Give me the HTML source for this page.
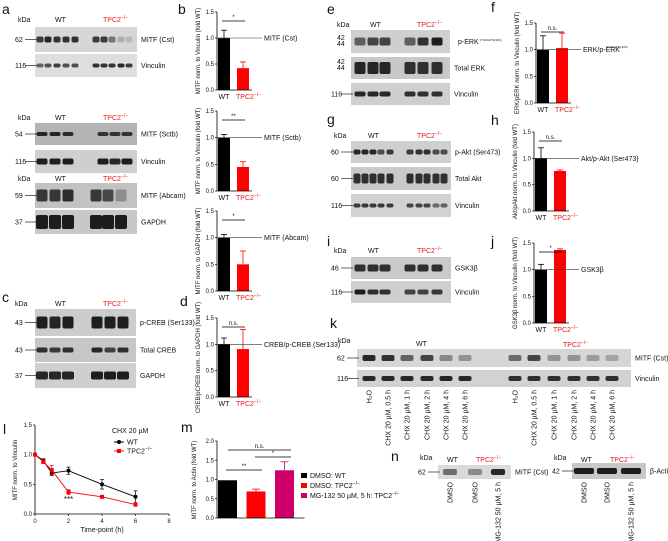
<!DOCTYPE html>
<html><head><meta charset="utf-8">
<style>
html,body{margin:0;padding:0;background:#fff;}
svg{display:block;font-family:"Liberation Sans",Arial,sans-serif;}
text{font-size:7px;fill:#111;}
.let{font-size:14px;}
.red{fill:#e8141b;}
</style></head>
<body>
<svg id="fig" width="668" height="541" viewBox="0 0 668 541" xmlns="http://www.w3.org/2000/svg"></svg>
<script>
// ---------- chart data ----------
const barCategories = ["WT", "TPC2"];
const bCstValues = [1.0, 0.42];   const bCstErrors = [0.15, 0.12];
const bSctbValues = [1.0, 0.45];  const bSctbErrors = [0.06, 0.10];
const bAbcamValues = [1.0, 0.50]; const bAbcamErrors = [0.06, 0.25];
const dCrebValues = [1.0, 0.91];  const dCrebErrors = [0.12, 0.37];
const fErkValues = [1.0, 1.03];   const fErkErrors = [0.26, 0.28];
const hAktValues = [1.0, 0.76];   const hAktErrors = [0.20, 0.02];
const jGskValues = [1.0, 1.37];   const jGskErrors = [0.10, 0.02];
const barTicks = [0, 0.5, 1.0, 1.5];
const lTimes = [0, 0.5, 1, 2, 4, 6];
const lWtValues = [1.0, 0.90, 0.69, 0.73, 0.50, 0.29];
const lWtErrors = [0.02, 0.03, 0.04, 0.06, 0.08, 0.10];
const lKoValues = [1.0, 0.88, 0.74, 0.37, 0.29, 0.16];
const lKoErrors = [0.02, 0.03, 0.08, 0.04, 0.02, 0.03];
const lXTicks = [0, 2, 4, 6, 8];
const lYTicks = [0, 0.5, 1.0, 1.5];
const mCategories = ["DMSO: WT", "DMSO: TPC2", "MG-132 50 µM, 5 h: TPC2"];
const mValues = [0.98, 0.69, 1.24];
const mErrors = [0.0, 0.06, 0.22];
const mTicks = [0, 0.5, 1.0, 1.5, 2.0];

const NS = "http://www.w3.org/2000/svg";
const svg = document.getElementById("fig");
function el(tag, attrs, parent, txt) {
  const e = document.createElementNS(NS, tag);
  for (const k in attrs) e.setAttribute(k, attrs[k]);
  if (txt !== undefined) e.textContent = txt;
  (parent || svg).appendChild(e);
  return e;
}
function txt(x, y, s, opts, parent) {
  const t = el("text", Object.assign({x: x, y: y}, opts || {}), parent, s);
  return t;
}
function tpc(x, y, opts, parent, size) {
  const t = el("text", Object.assign({x: x, y: y, class: "red"}, opts || {}), parent);
  const a = el("tspan", {}, t, "TPC2");
  const b = el("tspan", {dy: -3, style: "font-size:" + (size || 5) + "px"}, t, "−/−");
  return t;
}
function letter(x, y, s) {
  const t = txt(x, y, s, {class: "let"});
  
  
}
["a",2,14,"b",178,14,"c",2,302,"d",180,306,"e",327,14,"f",491,12,"g",327,124,"h",491,125,"i",327,246,"j",491,246,"k",330,328,"l",3,434,"m",181,432,"n",391,461].reduce((acc,v,i,arr)=>{ if(i%3===0) letter(arr[i+1],arr[i+2],v); return acc;},0);

// ---------- blots ----------
function blot(name, x, y, w, h, bg, lanes, bandH, label, kda, kdaDy) {
  const g = el("g", {});
  
  
  el("rect", {x: x, y: y, width: w, height: h, fill: bg}, g);
  lanes.forEach(l => {
    el("rect", {x: l[0] - l[1] / 2, y: y + h / 2 - bandH / 2 + (l[3] || 0), width: l[1], height: bandH, rx: 2, fill: "rgba(20,20,20," + l[2] + ")"}, g);
  });
  if (label) txt(x + w + 4, y + h / 2 + 2.5, label, {}, g);
  if (kda) {
    txt(x - 20, y + h / 2 + 2.5 + (kdaDy || 0), kda, {}, g);
    el("line", {x1: x - 10, x2: x + 2, y1: y + h / 2 + (kdaDy || 0), y2: y + h / 2 + (kdaDy || 0), stroke: "#222", "stroke-width": 0.7}, g);
  }
  return g;
}
function header(x1, x2, y, kx) {
  txt(kx, y, "kDa");
  txt(x1, y, "WT");
  tpc(x2, y);
}
function lanes(centers, w, ints) { return centers.map((c, i) => [c, w, ints[i]]); }

// a
header(55, 103, 22, 18);
blot("blot-a-mitf-cst", 35, 27, 102, 25, "#d6d6d6", lanes([40,48,57,66,75,96,104,112,121,129], 7, [.8,.9,.85,.85,.85,.8,.8,.5,.2,.15]), 6, "MITF (Cst)", "62");
blot("blot-a-vinculin-1", 35, 54, 102, 23, "#dedede", lanes([40,48,57,66,75,96,104,112,121,129], 7, [.6,.7,.8,.7,.7,.85,.85,.85,.9,.8]), 4, "Vinculin", "116");
header(55, 103, 120, 18);
blot("blot-a-mitf-sctb", 35, 123, 102, 22, "#b4b4b4", lanes([42,55,68,103,115,127], 11, [.9,.9,.85,.8,.8,.8]), 4, "MITF (Sctb)", "54");
blot("blot-a-vinculin-2", 35, 150, 102, 23, "#cfcfcf", lanes([42,55,68,103,115,127], 11, [.95,.95,.95,.95,.9,.95]), 6, "Vinculin", "116");
header(55, 103, 181, 18);
blot("blot-a-mitf-abcam", 35, 183, 102, 25, "#c2c2c2", lanes([42,55,68,96,108,121], 11, [.8,.8,.85,.8,.7,.3]), 12, "MITF (Abcam)", "59");
blot("blot-a-gapdh", 35, 210, 102, 24, "#c8c8c8", lanes([42,55,68,96,108,121], 12, [.95,.95,.95,.95,.95,.95]), 14, "GAPDH", "37");
// c
header(55, 103, 306, 15);
blot("blot-c-pcreb", 35, 309, 101, 27, "#cccccc", lanes([42,55,68,97,110,123], 11, [.95,.9,.95,.95,.95,.95]), 12, "p-CREB (Ser133)", "43");
blot("blot-c-total-creb", 35, 338, 101, 24, "#c6c6c6", lanes([42,55,68,97,110,123], 11, [.85,.8,.85,.9,.75,.85]), 5, "Total CREB", "43");
blot("blot-c-gapdh", 35, 363, 101, 25, "#cfcfcf", lanes([42,55,68,97,110,123], 12, [.9,.9,.9,.95,.95,.95]), 8, "GAPDH", "37");
// e
header(370, 417, 27, 337);
blot("blot-e-perk", 351, 30, 99, 23, "#cfcfcf", lanes([360,373,385,410,423,437], 11, [.6,.75,.75,.6,.85,.95]), 8, "", "");
txt(458, 44, "p-ERK"); txt(480, 41, "(Thr202/Tyr204)", {style: "font-size:3px"});
txt(337, 40, "42"); txt(337, 46, "44");
blot("blot-e-total-erk", 351, 57, 99, 22, "#c8c8c8", lanes([360,373,385,410,423,437], 11, [.9,.9,.9,.85,.85,.85]), 12, "Total ERK", "");
txt(337, 64, "42"); txt(337, 70, "44");
blot("blot-e-vinculin", 351, 83, 99, 22, "#cfcfcf", lanes([360,373,385,410,423,437], 11, [.9,.9,.9,.85,.85,.85]), 5, "Vinculin", "116");
// g
header(368, 417, 138, 334);
blot("blot-g-pakt", 351, 141, 100, 22, "#cfcfcf", lanes([357,365,373,381,390,410,419,427,436,444], 7, [.9,.9,.9,.7,.8,.8,.85,.85,.7,.7]), 5, "p-Akt (Ser473)", "60");
blot("blot-g-total-akt", 351, 167, 100, 23, "#c9c9c9", lanes([357,365,373,381,390,410,419,427,436,444], 7, [.85,.85,.85,.85,.85,.85,.85,.85,.85,.85]), 10, "Total Akt", "60");
blot("blot-g-vinculin", 351, 194, 100, 23, "#d2d2d2", lanes([357,365,373,381,390,410,419,427,436,444], 7, [.8,.8,.8,.8,.8,.75,.75,.75,.55,.6]), 4, "Vinculin", "116");
// i
header(368, 417, 253, 334);
blot("blot-i-gsk3b", 351, 257, 100, 22, "#c9c9c9", lanes([360,373,385,410,423,437], 11, [.85,.85,.85,.85,.85,.85]), 7, "GSK3β", "46");
blot("blot-i-vinculin", 351, 281, 100, 22, "#cfcfcf", lanes([360,373,385,410,423,437], 11, [.95,.85,.85,.75,.75,.8]), 5, "Vinculin", "116");
// k
txt(338, 343, "kDa"); txt(416, 346, "WT"); tpc(563, 347);
const kCent = [369,388,407,427,446,465,515,534,554,574,593,612];
blot("blot-k-mitf", 357, 349, 274, 18, "#d6d6d6", lanes(kCent, 13, [.9,.85,.6,.75,.4,.35,.55,.75,.35,.35,.3,.25]), 6, "MITF (Cst)", "62");
blot("blot-k-vinculin", 357, 370, 274, 17, "#d2d2d2", lanes(kCent, 13, [.9,.9,.9,.9,.9,.9,.85,.85,.85,.85,.85,.85]), 5, "Vinculin", "116");
const kLab = ["H₂O","CHX 20 µM, 0.5 h","CHX 20 µM, 1 h","CHX 20 µM, 2 h","CHX 20 µM, 4 h","CHX 20 µM, 6 h"];
kCent.forEach((c, i) => {
  const t = txt(0, 0, kLab[i % 6], {transform: "translate(" + (c + 2.5) + ",390) rotate(-90)", "text-anchor": "end"});
  
  
});
// n
txt(420, 460, "kDa"); txt(447, 462, "WT"); tpc(476, 462);
blot("blot-n-mitf", 438, 465, 73, 14, "#dadada", lanes([450,475,498], 14, [.55,.4,.9]), 6, "MITF (Cst)", "62");
txt(554, 460, "kDa"); txt(581, 462, "WT"); tpc(610, 462);
blot("blot-n-actin", 572, 463, 74, 16, "#c8c8c8", lanes([584,607,631], 20, [.95,.95,.95]), 6, "β-Actin", "42");
[[450,"DMSO"],[475,"DMSO"],[498,"MG-132 50 µM, 5 h"],[584,"DMSO"],[607,"DMSO"],[631,"MG-132 50 µM, 5 h"]].forEach(p => {
  const t = txt(0, 0, p[1], {transform: "translate(" + (p[0] + 2.5) + ",482) rotate(-90)", "text-anchor": "end"});
  
  
});

// ---------- bar charts ----------
function barChart(name, ax, y0, y15, values, errors, sig, label, ylab, barW, gap) {
  const g = el("g", {});
  
  
  const ys = v => y0 - v * (y0 - y15) / 1.5;
  const bw = barW || 12, gp = gap || 7;
  values.forEach((v, i) => {
    const x = ax + 1 + i * (bw + gp);
    const r = el("rect", {x: x, y: ys(v), width: bw, height: y0 - ys(v), fill: i ? "#ff0000" : "#000"}, g);
    
    
    const cx = x + bw / 2;
    el("line", {x1: cx, x2: cx, y1: ys(v), y2: ys(v + errors[i]), stroke: i ? "#ff0000" : "#000", "stroke-width": 0.8}, g);
    el("line", {x1: cx - 3, x2: cx + 3, y1: ys(v + errors[i]), y2: ys(v + errors[i]), stroke: i ? "#ff0000" : "#000", "stroke-width": 0.8}, g);
  });
  const xEnd = ax + 2 + 2 * bw + gp + 2;
  el("line", {x1: ax, x2: ax, y1: y15, y2: y0, stroke: "#000", "stroke-width": 0.8}, g);
  el("line", {x1: ax, x2: xEnd, y1: y0, y2: y0, stroke: "#000", "stroke-width": 0.8}, g);
  barTicks.forEach(t => {
    el("line", {x1: ax - 2, x2: ax, y1: ys(t), y2: ys(t), stroke: "#000", "stroke-width": 0.7}, g);
    txt(ax - 3, ys(t) + 2, t.toFixed(1), {"text-anchor": "end", style: "font-size:6px"}, g);
  });
  // reference line at 1.0 to label
  el("line", {x1: ax, x2: xEnd + 10, y1: ys(1), y2: ys(1), stroke: "#333", "stroke-width": 0.6}, g);
  txt(xEnd + 12, ys(1) + 2.5, label, {}, g);
  // significance
  const c1 = ax + 1 + bw / 2, c2 = ax + 1 + bw + gp + bw / 2;
  el("line", {x1: c1 - 2, x2: c2 + 2, y1: ys(1.5) + 9, y2: ys(1.5) + 9, stroke: "#000", "stroke-width": 0.7}, g);
  txt((c1 + c2) / 2, ys(1.5) + 7, sig, {"text-anchor": "middle", style: "font-size:6px"}, g);
  // x labels
  txt(c1, y0 + 9, "WT", {"text-anchor": "middle"}, g);
  tpc(c2 - 7, y0 + 9, {}, g);
  txt(0, 0, ylab, {transform: "translate(" + (ax - 17) + "," + ((y0 + y15) / 2) + ") rotate(-90)", "text-anchor": "middle", style: "font-size:6px"}, g);
}
barChart("chart-b-mitf-cst", 217, 90, 12, bCstValues, bCstErrors, "*", "MITF (Cst)", "MITF norm. to Vinculin (fold WT)");
barChart("chart-b-mitf-sctb", 217, 191, 111, bSctbValues, bSctbErrors, "**", "MITF (Sctb)", "MITF norm. to Vinculin (fold WT)");
barChart("chart-b-mitf-abcam", 217, 291, 211, bAbcamValues, bAbcamErrors, "*", "MITF (Abcam)", "MITF norm. to GAPDH (fold WT)");
barChart("chart-d-creb", 217, 397, 318, dCrebValues, dCrebErrors, "n.s.", "CREB/p-CREB (Ser133)", "CREB/pCREB norm. to GAPDH (fold WT)");
barChart("chart-f-erk", 536, 103, 23, fErkValues, fErkErrors, "n.s.", "ERK/p-ERK", "ERK/pERK norm. to Vinculin (fold WT)");
txt(606, 48, "(Thr202/Tyr204)", {style: "font-size:3px"});
barChart("chart-h-akt", 534, 211, 132, hAktValues, hAktErrors, "n.s.", "Akt/p-Akt (Ser473)", "Akt/pAkt norm. to Vinculin (fold WT)");
barChart("chart-j-gsk3b", 534, 323, 243, jGskValues, jGskErrors, "*", "GSK3β", "GSK3β norm. to Vinculin (fold WT)");

// ---------- line chart l ----------
(function () {
  const g = el("g", {});
  
  
  const X0 = 35, X1 = 169, Y0 = 514, Y1 = 425;
  const xs = t => X0 + t * (X1 - X0) / 8;
  const ys = v => Y0 - v * (Y0 - Y1) / 1.5;
  el("line", {x1: X0, x2: X0, y1: Y1, y2: Y0, stroke: "#000", "stroke-width": 0.8}, g);
  el("line", {x1: X0, x2: X1, y1: Y0, y2: Y0, stroke: "#000", "stroke-width": 0.8}, g);
  lYTicks.forEach(t => {
    el("line", {x1: X0 - 2, x2: X0, y1: ys(t), y2: ys(t), stroke: "#000", "stroke-width": 0.7}, g);
    txt(X0 - 3, ys(t) + 2, t.toFixed(1), {"text-anchor": "end", style: "font-size:6px"}, g);
  });
  lXTicks.forEach(t => {
    el("line", {x1: xs(t), x2: xs(t), y1: Y0, y2: Y0 + 2, stroke: "#000", "stroke-width": 0.7}, g);
    txt(xs(t), Y0 + 9, String(t), {"text-anchor": "middle", style: "font-size:6px"}, g);
  });
  txt(102, 532, "Time-point (h)", {"text-anchor": "middle"}, g);
  txt(0, 0, "MITF norm. to Vinculin", {transform: "translate(17,470) rotate(-90)", "text-anchor": "middle", style: "font-size:6px"}, g);
  function series(vals, errs, col, nm, square) {
    const s = el("g", {}, g);
    
    
    el("polyline", {points: lTimes.map((t, i) => xs(t) + "," + ys(vals[i])).join(" "), fill: "none", stroke: col, "stroke-width": 0.9}, s);
    lTimes.forEach((t, i) => {
      el("line", {x1: xs(t), x2: xs(t), y1: ys(vals[i] - errs[i]), y2: ys(vals[i] + errs[i]), stroke: col, "stroke-width": 0.7}, s);
      el("line", {x1: xs(t) - 2, x2: xs(t) + 2, y1: ys(vals[i] + errs[i]), y2: ys(vals[i] + errs[i]), stroke: col, "stroke-width": 0.7}, s);
      el("line", {x1: xs(t) - 2, x2: xs(t) + 2, y1: ys(vals[i] - errs[i]), y2: ys(vals[i] - errs[i]), stroke: col, "stroke-width": 0.7}, s);
      if (square) el("rect", {x: xs(t) - 2, y: ys(vals[i]) - 2, width: 4, height: 4, fill: col}, s);
      else el("circle", {cx: xs(t), cy: ys(vals[i]), r: 2, fill: col}, s);
    });
  }
  series(lWtValues, lWtErrors, "#000", "series-wt", false);
  series(lKoValues, lKoErrors, "#ff0000", "series-tpc2", true);
  txt(xs(2), ys(0.2), "***", {"text-anchor": "middle", style: "font-size:8px"}, g);
  txt(112, 433, "CHX 20 µM", {}, g);
  el("line", {x1: 114, x2: 124, y1: 442, y2: 442, stroke: "#000"}, g);
  el("circle", {cx: 119, cy: 442, r: 2, fill: "#000"}, g);
  txt(127, 444.5, "WT", {}, g);
  el("line", {x1: 114, x2: 124, y1: 451, y2: 451, stroke: "#ff0000"}, g);
  el("rect", {x: 117, y: 449, width: 4, height: 4, fill: "#ff0000"}, g);
  const lt = el("text", {x: 127, y: 453.5}, g);
  el("tspan", {}, lt, "TPC2"); el("tspan", {dy: -3, style: "font-size:5px"}, lt, "−/−");
})();

// ---------- bar chart m ----------
(function () {
  const g = el("g", {});
  
  
  const AX = 217, Y0 = 518, Y2 = 441;
  const ys = v => Y0 - v * (Y0 - Y2) / 2;
  const cols = ["#000", "#ff0000", "#cc0066"];
  const bw = 19, step = 28.5;
  mValues.forEach((v, i) => {
    const x = AX + 1 + i * step;
    const r = el("rect", {x: x, y: ys(v), width: bw, height: Y0 - ys(v), fill: cols[i]}, g);
    
    
    if (mErrors[i] > 0) {
      el("line", {x1: x + bw / 2, x2: x + bw / 2, y1: ys(v), y2: ys(v + mErrors[i]), stroke: cols[i], "stroke-width": 0.8}, g);
      el("line", {x1: x + bw / 2 - 4, x2: x + bw / 2 + 4, y1: ys(v + mErrors[i]), y2: ys(v + mErrors[i]), stroke: cols[i], "stroke-width": 0.8}, g);
    }
    el("rect", {x: 301, y: 473 + i * 10, width: 6, height: 5, fill: cols[i]}, g);
    const t = el("text", {x: 310, y: 478 + i * 10}, g);
    el("tspan", {}, t, mCategories[i]);
    if (i > 0) el("tspan", {dy: -3, style: "font-size:5px"}, t, "−/−");
  });
  el("line", {x1: AX, x2: AX, y1: Y2, y2: Y0, stroke: "#000", "stroke-width": 0.8}, g);
  el("line", {x1: AX, x2: AX + 3 * step + 2, y1: Y0, y2: Y0, stroke: "#000", "stroke-width": 0.8}, g);
  mTicks.forEach(t => {
    el("line", {x1: AX - 2, x2: AX, y1: ys(t), y2: ys(t), stroke: "#000", "stroke-width": 0.7}, g);
    txt(AX - 3, ys(t) + 2, t.toFixed(1), {"text-anchor": "end", style: "font-size:6px"}, g);
  });
  txt(0, 0, "MITF norm. to Actin (fold WT)", {transform: "translate(196,480) rotate(-90)", "text-anchor": "middle", style: "font-size:6px"}, g);
  [[228, 291, 450, "n.s."], [255, 291, 457, "*"], [226, 262, 470, "**"]].forEach(s => {
    el("line", {x1: s[0], x2: s[1], y1: s[2], y2: s[2], stroke: "#000", "stroke-width": 0.7}, g);
    txt((s[0] + s[1]) / 2, s[2] - 2, s[3], {"text-anchor": "middle", style: "font-size:6px"}, g);
  });
})();
</script>
</body></html>
